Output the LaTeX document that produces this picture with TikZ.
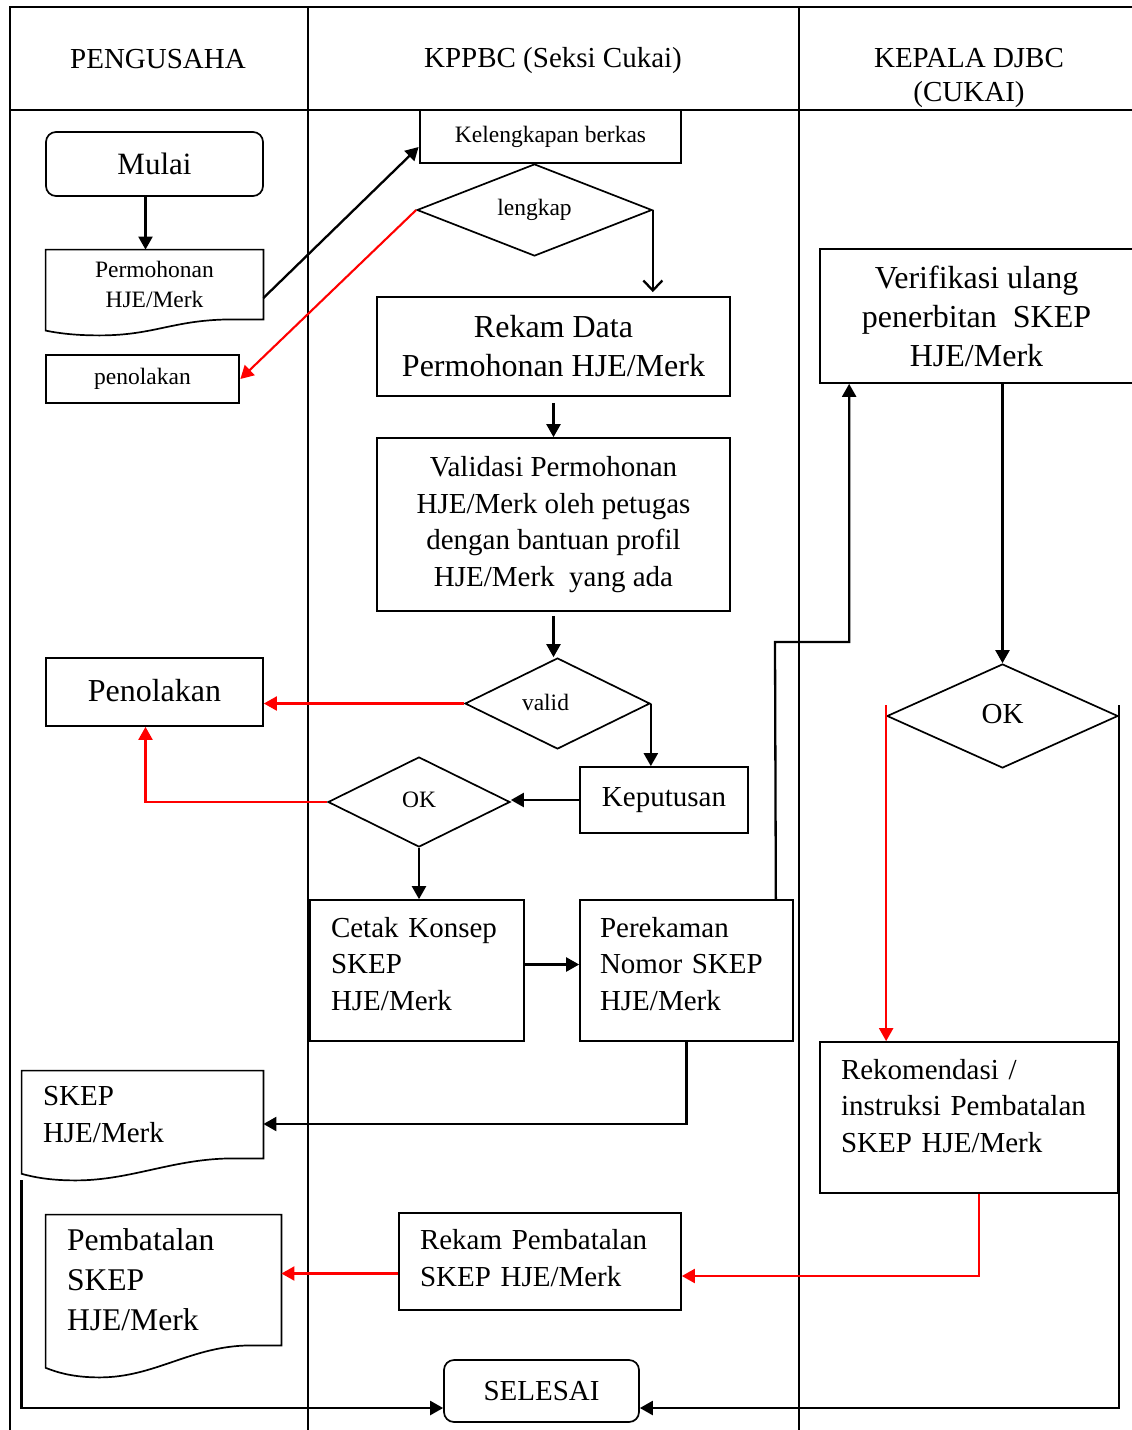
\documentclass[tikz,border=0pt]{standalone}
\usepackage{fontspec}
\setmainfont{Liberation Serif}
\usetikzlibrary{arrows.meta, shapes.geometric, calc}

\newcommand\bigtxt{\fontsize{14.5}{18.3}\selectfont}
\newcommand\largetxt{\fontsize{16}{19.5}\selectfont}
\newcommand\smalltxt{\fontsize{11.75}{15}\selectfont}
% lines of text lifted inside their box
\newcommand\lifted[2]{\raisebox{#1}[\height][\depth]{\begin{tabular}{@{}l@{}}#2\end{tabular}}}
% document outline with wavy bottom: #1 node, #2 depth of the wave
\newcommand\docoutline[2]{%
  \draw[line width=0.85pt] let \p1=(#1.south west), \p2=(#1.north east) in
    (\x1,\y1-0.7*#2) -- (\x1,\y2) -- (\x2,\y2) -- (\x2,\y1) -- (\x2-15pt,\y1)
    .. controls (\x2-45pt,\y1) and (\x1+55pt,\y1-#2) .. (\x1+27pt,\y1-#2)
    .. controls (\x1+14pt,\y1-#2) and (\x1+6pt,\y1-0.85*#2) .. (\x1,\y1-0.7*#2) -- cycle;}

\begin{document}
\begin{tikzpicture}[
    x=0.5pt, y=-0.5pt,
    box/.style={draw, line width=0.85pt, inner sep=0pt, align=center, font=\bigtxt},
    thickbox/.style={box, line width=1.4pt, font=\smalltxt},
    lbox/.style={box, align=left, inner xsep=10.5pt},
    terminal/.style={box, rounded corners=5pt},
    decision/.style={diamond, draw, line width=0.85pt, inner sep=0pt, aspect=2.5, font=\smalltxt},
    doc/.style={inner sep=0pt, align=center, font=\bigtxt},
    docl/.style={doc, align=left, inner xsep=10.5pt},
    header/.style={align=center, font=\bigtxt},
    arrow/.style={-{Triangle[length=6.5pt,width=7pt]}, line width=1.15pt},
    redarrow/.style={arrow, red, line width=1.05pt},
    lane/.style={line width=1pt}
]
\useasboundingbox (0,0) rectangle (1131,1430);

% Swimlanes
\draw[lane] (10,1440) -- (10,7) -- (1140,7);
\draw[lane] (10,110) -- (1140,110);
\draw[lane] (308,7) -- (308,1440);
\draw[lane] (799,7) -- (799,1440);

\node[header] (pengusaha) at (158,59) {PENGUSAHA};
\node[header] (kppbc) at (553,61) {KPPBC (Seksi Cukai)};
\node[header, font=\fontsize{14.5}{17}\selectfont] (djbc) at (969,78) {KEPALA DJBC\\(CUKAI)};

% Pengusaha
\node[terminal, font=\fontsize{15.5}{18}\selectfont, minimum width=108.5pt, minimum height=32pt] (mulai) at (154.5,164) {Mulai};
\node[doc, font=\smalltxt, minimum width=108.5pt, minimum height=34.5pt] (permohonan) at (154.5,284.5) {Permohonan\\HJE/Merk};
\node[thickbox, minimum width=96.5pt, minimum height=24pt] (tolak1) at (142.5,379) {penolakan};
\node[box, font=\largetxt, minimum width=108.5pt, minimum height=34pt] (tolak2) at (154.5,692) {\raisebox{2pt}{Penolakan}};
\node[docl, text width=99.5pt, minimum height=43.5pt] (skep) at (142.5,1114.5) {SKEP\\HJE/Merk};
\node[docl, font=\fontsize{15.8}{20}\selectfont, text width=96.5pt, minimum height=65pt] (batal) at (163.5,1280) {Pembatalan\\SKEP\\HJE/Merk};

% KPPBC
\node[thickbox, minimum width=130.5pt, minimum height=26.5pt] (berkas) at (550.5,136.5) {Kelengkapan berkas};
\node[decision, minimum width=117.5pt, minimum height=46pt] (lengkap) at (534.5,210) {lengkap};
\node[box, font=\largetxt, minimum width=176.5pt, minimum height=49.5pt] (rekam) at (553.5,346.5) {Rekam Data\\Permohonan HJE/Merk};
\node[box, minimum width=176.5pt, minimum height=86.5pt] (validasi) at (553.5,524.5) {Validasi Permohonan\\HJE/Merk oleh petugas\\dengan bantuan profil\\HJE/Merk\ \ yang ada};
\node[decision, minimum width=92.5pt, minimum height=45.5pt] (valid) at (557.5,703.5) {\raisebox{1pt}{valid}\hspace*{12pt}};
\node[box, minimum width=84pt, minimum height=33pt] (keputusan) at (664,800) {Keputusan};
\node[decision, minimum width=91pt, minimum height=45pt] (ok1) at (419,802) {\raisebox{2pt}{OK}};
\node[lbox, text width=86pt, minimum height=70.5pt] (cetak) at (417,970.5) {\lifted{2pt}{Cetak Konsep\\SKEP\\HJE/Merk}};
\node[lbox, inner xsep=10pt, text width=86.5pt, minimum height=70.5pt] (perekaman) at (686.5,970.5) {\lifted{2pt}{Perekaman\\Nomor SKEP\\HJE/Merk}};
\node[lbox, text width=120pt, minimum height=48.5pt] (rekambatal) at (540,1261.5) {\lifted{0.5pt}{Rekam Pembatalan\\SKEP HJE/Merk}};
\node[terminal, minimum width=97.5pt, minimum height=31pt] (selesai) at (541.5,1391) {SELESAI};

% Kepala DJBC
\node[box, font=\largetxt, minimum width=156.5pt, minimum height=67pt] (verifikasi) at (976.5,316) {Verifikasi ulang\\penerbitan\ \ SKEP\\HJE/Merk};
\node[decision, font=\bigtxt, minimum width=115.5pt, minimum height=52pt] (ok2) at (1002.5,716) {\raisebox{2pt}{OK}};
\node[lbox, text width=128pt, minimum height=75.5pt] (rekomendasi) at (969,1117.5) {\lifted{4.5pt}{Rekomendasi /\\instruksi Pembatalan\\SKEP HJE/Merk}};

% Document outlines
\docoutline{permohonan}{8pt}
\docoutline{skep}{11pt}
\docoutline{batal}{16pt}

% Arrows
\draw[arrow] ([xshift=-4.5pt]mulai.south) -- ([xshift=-4.5pt]permohonan.north);
\draw[arrow] ([yshift=-6.75pt]permohonan.east) -- ([yshift=-5.25pt]berkas.west);
\draw[redarrow] (lengkap.west) -- (tolak1.east);
\draw[-{Straight Barb[length=5pt,width=9.5pt]}, line width=1.15pt, shorten >=2pt] (lengkap.east) -- (lengkap.east |- rekam.north);
\draw[arrow, shorten <=3pt] (rekam.south) -- (validasi.north);
\draw[arrow, shorten <=2pt] (validasi.south) -- (validasi.south |- valid.north);
\draw[redarrow] (valid.west) -- (valid.west -| tolak2.east);
\draw[arrow] (valid.east) -- (valid.east |- keputusan.north);
\draw[arrow] (keputusan.west) -- (keputusan.west -| ok1.east);
\draw[redarrow] (ok1.west) -| ([xshift=-4.5pt]tolak2.south);
\draw[arrow] (ok1.south) -- (ok1.south |- cetak.north);
\draw[arrow] ([yshift=3pt]cetak.east) -- ([yshift=3pt]perekaman.west);
\coordinate (naik) at (775,642);
\draw[arrow] ([xshift=-9pt]perekaman.north east) -- (naik) -| ([xshift=15pt]verifikasi.south west);
\draw[arrow] (ok2.north |- verifikasi.south) -- (ok2.north);
\draw[redarrow] ([yshift=5.5pt]ok2.west) -- (ok2.west |- rekomendasi.north);
\draw[arrow] ([yshift=5.5pt]ok2.east) |- ([yshift=-8.5pt]selesai.east);
\draw[redarrow] ([xshift=5pt]rekomendasi.south) |- ([yshift=-7.25pt]rekambatal.east);
\draw[redarrow] ([yshift=-6pt]rekambatal.west) -- ([yshift=3.25pt]batal.east);
\draw[arrow] (perekaman.south) |- ([yshift=-4.75pt]skep.east);
\draw[arrow] ([yshift=-11pt]skep.south west) |- ([yshift=-8.5pt]selesai.west);

\end{tikzpicture}
\end{document}
